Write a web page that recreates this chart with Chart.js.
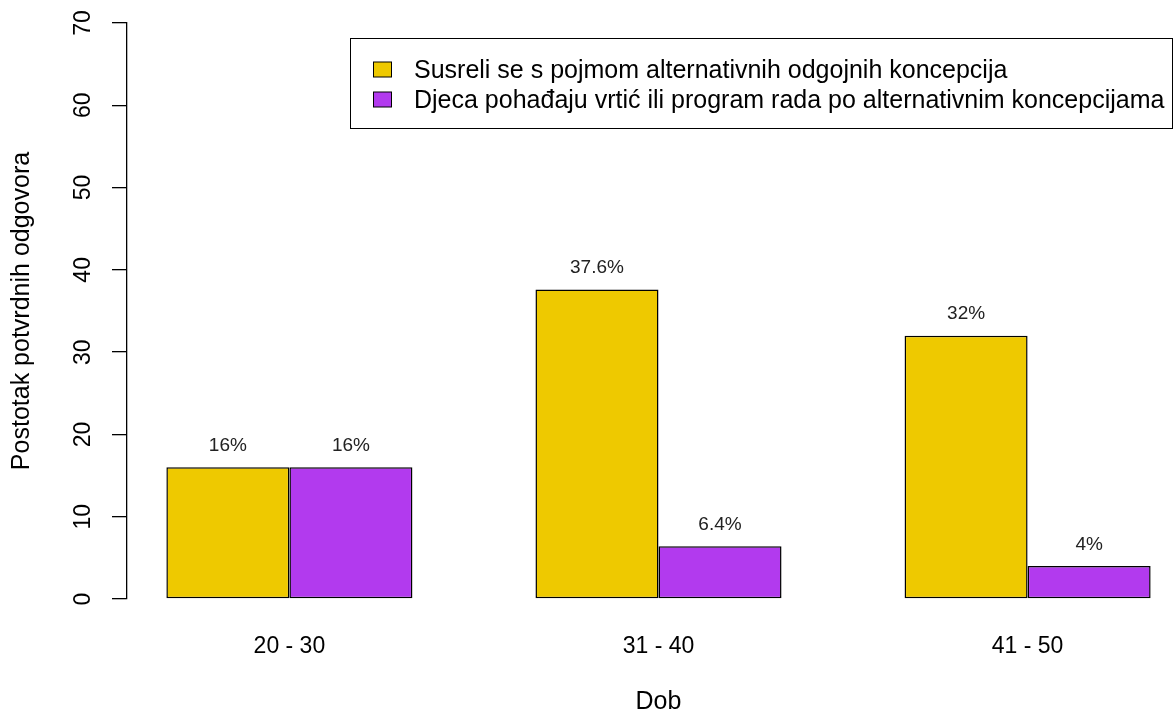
<!DOCTYPE html>
<html>
<head>
<meta charset="utf-8">
<script src="https://cdn.jsdelivr.net/npm/chart.js@4/dist/chart.umd.min.js"></script>
<style>
  html, body { margin: 0; padding: 0; background: #fff; overflow: hidden; }
  #wrap { position: absolute; left: 0; top: 0; width: 1200px; height: 715px; }
</style>
</head>
<body>
<div id="wrap"><canvas id="chart"></canvas></div>
<script>
const ageGroups = ['20 - 30', '31 - 40', '41 - 50'];
const metConcept = [16, 37.6, 32];
const attendProgram = [16, 6.4, 4];
const yTickValues = [0, 10, 20, 30, 40, 50, 60, 70];

const seriesNames = [
    'Susreli se s pojmom alternativnih odgojnih koncepcija',
    'Djeca pohađaju vrtić ili program rada po alternativnim koncepcijama'
];
const seriesColors = ['#EEC900', '#B23AEE'];

Chart.defaults.font.family = "'Liberation Sans', Arial, sans-serif";
Chart.defaults.color = '#000';

// group of two bars spans 2/3 of a category; R pads the range by 4%
const groupHalf = 1 / 3;
const xPad = 0.04 * ((ageGroups.length - 1) + 2 * groupHalf);
const xMin = -groupHalf - xPad;
const xMax = ageGroups.length - 1 + groupHalf + xPad;

const valueLabels = {
    id: 'valueLabels',
    afterDatasetsDraw(chart) {
        const ctx = chart.ctx;
        ctx.save();
        ctx.font = "19px 'Liberation Sans', Arial, sans-serif";
        ctx.fillStyle = '#222';
        ctx.textAlign = 'center';
        ctx.textBaseline = 'middle';
        chart.data.datasets.forEach((ds, di) => {
            chart.getDatasetMeta(di).data.forEach((bar, i) => {
                ctx.fillText(ds.data[i] + '%', bar.x, bar.y - 21.5);
            });
        });
        ctx.restore();
    }
};

const boxLegend = {
    id: 'boxLegend',
    afterDraw(chart) {
        const ctx = chart.ctx;
        const left = 350.5, top = 38.5, w = 822, h = 90;
        ctx.save();
        ctx.fillStyle = '#fff';
        ctx.fillRect(left, top, w, h);
        ctx.strokeStyle = '#000';
        ctx.lineWidth = 1;
        ctx.strokeRect(left, top, w, h);
        ctx.font = "25px 'Liberation Sans', Arial, sans-serif";
        ctx.textBaseline = 'middle';
        chart.data.datasets.forEach((ds, i) => {
            const cy = 69.5 + i * 30;
            ctx.fillStyle = ds.backgroundColor;
            ctx.fillRect(373.5, cy - 7.5, 18, 15);
            ctx.strokeRect(373.5, cy - 7.5, 18, 15);
            ctx.fillStyle = '#000';
            ctx.fillText(ds.label, 414, cy + 1.5);
        });
        ctx.restore();
    }
};

new Chart(document.getElementById('chart'), {
    type: 'bar',
    data: {
        labels: ageGroups.map((_, i) => i),
        datasets: [
            {
                label: seriesNames[0],
                data: metConcept,
                backgroundColor: seriesColors[0],
                borderColor: '#000',
                borderWidth: 1.5,
                borderSkipped: false
            },
            {
                label: seriesNames[1],
                data: attendProgram,
                backgroundColor: seriesColors[1],
                borderColor: '#000',
                borderWidth: 1.5,
                borderSkipped: false
            }
        ]
    },
    options: {
        responsive: true,
        maintainAspectRatio: false,
        animation: false,
        events: [],
        categoryPercentage: 2 / 3,
        barPercentage: 1,
        layout: { padding: { left: 0, top: 23, right: 10, bottom: 0 } },
        plugins: {
            legend: { display: false },
            tooltip: { enabled: false }
        },
        scales: {
            x: {
                type: 'linear',
                min: xMin,
                max: xMax,
                offset: false,
                afterBuildTicks: s => { s.ticks = ageGroups.map((_, i) => ({ value: i })); },
                afterFit: s => { s.height = 116; s.paddingLeft = 0; s.paddingRight = 0; },
                grid: { display: false, drawTicks: false },
                border: { display: false },
                ticks: {
                    callback: v => ageGroups[v],
                    maxRotation: 0,
                    autoSkip: false,
                    padding: 34,
                    font: { size: 23 },
                    color: '#000'
                },
                title: {
                    display: true,
                    text: 'Dob',
                    font: { size: 25, lineHeight: 1 },
                    padding: 0,
                    color: '#000'
                }
            },
            y: {
                min: 0,
                max: 70,
                afterBuildTicks: s => { s.ticks = yTickValues.map(v => ({ value: v })); },
                afterFit: s => { s.width = 127; s.paddingTop = 0; s.paddingBottom = 0; },
                grid: {
                    display: true,
                    drawOnChartArea: false,
                    drawTicks: true,
                    tickLength: 15,
                    color: '#000',
                    lineWidth: 1.3
                },
                border: { display: true, color: '#000', width: 1.3 },
                ticks: {
                    minRotation: 90,
                    maxRotation: 90,
                    crossAlign: 'center',
                    padding: 16,
                    font: { size: 23 },
                    color: '#000'
                },
                title: {
                    display: true,
                    text: 'Postotak potvrdnih odgovora',
                    font: { size: 25 },
                    padding: { top: 7, bottom: 0 },
                    color: '#000'
                }
            }
        }
    },
    plugins: [valueLabels, boxLegend]
});
</script>
</body>
</html>
